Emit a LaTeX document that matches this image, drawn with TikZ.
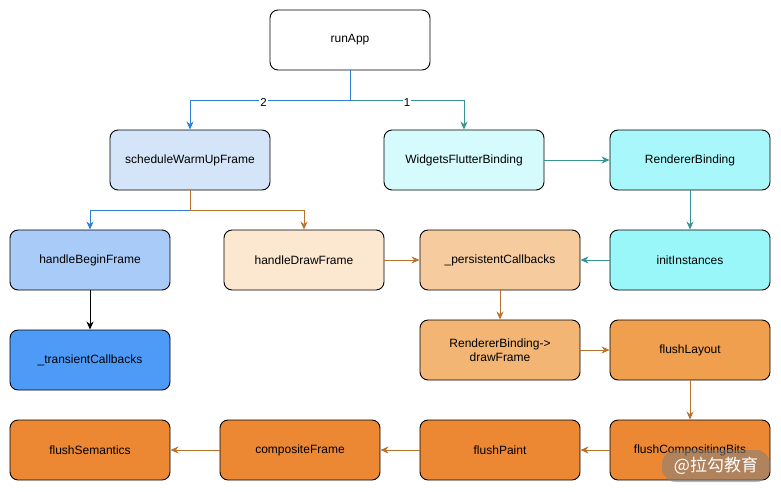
\documentclass[tikz,border=0pt]{standalone}
\usepackage{fontspec}
\setmainfont{Liberation Sans}
\newfontfamily\cjkfont{Noto Sans CJK SC}
\usetikzlibrary{arrows.meta,positioning}
\definecolor{cblue}{HTML}{2F7FD8}
\definecolor{cteal}{HTML}{3A9393}
\definecolor{cbrown}{HTML}{B8732E}
\definecolor{fSWU}{HTML}{D4E5F9}
\definecolor{fWFB}{HTML}{D5FBFC}
\definecolor{fRB}{HTML}{A8F7FA}
\definecolor{fII}{HTML}{99F6F9}
\definecolor{fHBF}{HTML}{A9CBF8}
\definecolor{fTC}{HTML}{4D9BF7}
\definecolor{fHDF}{HTML}{FCE7D0}
\definecolor{fPC}{HTML}{F6CC9F}
\definecolor{fDF}{HTML}{F2B574}
\definecolor{fFL}{HTML}{EF9F4D}
\definecolor{fFO}{HTML}{EC8833}
\tikzset{
  box/.style={draw=black, line width=0.9pt, rounded corners=8pt, minimum width=160pt, minimum height=60pt, inner sep=0pt, align=center, font=\fontsize{12}{14}\selectfont},
  conn/.style={line width=0.9pt, -{Stealth[length=8pt,width=7pt,inset=2.5pt]}},
  lbl/.style={fill=white, inner sep=1pt, font=\fontsize{11.5}{13}\selectfont}
}
\begin{document}
\begin{tikzpicture}[x=1pt,y=-1pt]
\useasboundingbox (0,0) rectangle (781,491);
\fill[white] (0,0) rectangle (781,491);
% nodes
\node[box, fill=white] (run) at (350,40) {runApp};
\node[box, fill=fSWU] (swu) at (190,160) {scheduleWarmUpFrame};
\node[box, fill=fWFB] (wfb) at (464,160) {WidgetsFlutterBinding};
\node[box, fill=fRB] (rb) at (690,160) {RendererBinding};
\node[box, fill=fHBF] (hbf) at (90,260) {handleBeginFrame};
\node[box, fill=fHDF] (hdf) at (304,260) {handleDrawFrame};
\node[box, fill=fPC] (pc) at (500,260) {\_persistentCallbacks};
\node[box, fill=fII] (ii) at (690,260) {initInstances};
\node[box, fill=fTC] (tc) at (90,360) {\_transientCallbacks};
\node[box, fill=fDF] (df) at (500,350) {RendererBinding->\\drawFrame};
\node[box, fill=fFL] (fl) at (690,350) {flushLayout};
\node[box, fill=fFO] (fs) at (90,450) {flushSemantics};
\node[box, fill=fFO] (cf) at (300,450) {compositeFrame};
\node[box, fill=fFO] (fp) at (500,450) {flushPaint};
\node[box, fill=fFO] (fcb) at (690,450) {flushCompositingBits};
% connectors
\coordinate (j1) at (350,100);
\coordinate (j2) at (190,210);
\draw[conn, cteal] (run.south) -- (j1) -| node[pos=0.25, lbl, text=black, yshift=-3pt] {1} (wfb.north);
\draw[conn, cblue] (run.south) -- (j1) -| node[pos=0.27, lbl, text=black, yshift=-2pt] {2} (swu.north);
\draw[conn, cblue] (swu.south) -- (j2) -| (hbf.north);
\draw[conn, cbrown] (swu.south) -- (j2) -| (hdf.north);
\draw[conn, cteal] (wfb.east) -- (rb.west);
\draw[conn, cteal] (rb.south) -- (ii.north);
\draw[conn, cteal] (ii.west) -- (pc.east);
\draw[conn, cbrown] (hdf.east) -- (pc.west);
\draw[conn, black] (hbf.south) -- (tc.north);
\draw[conn, cbrown] (pc.south) -- (df.north);
\draw[conn, cbrown] (df.east) -- (fl.west);
\draw[conn, cbrown] (fl.south) -- (fcb.north);
\draw[conn, cbrown] (fcb.west) -- (fp.east);
\draw[conn, cbrown] (fp.west) -- (cf.east);
\draw[conn, cbrown] (cf.west) -- (fs.east);
% watermark
\node[fill=gray, fill opacity=0.55, text opacity=1, text=white, rounded corners=14pt, minimum width=108pt, minimum height=32pt, inner sep=0pt, font=\cjkfont\fontsize{17}{19}\selectfont] (wm) at (716,466) {@拉勾教育};
\end{tikzpicture}
\end{document}
